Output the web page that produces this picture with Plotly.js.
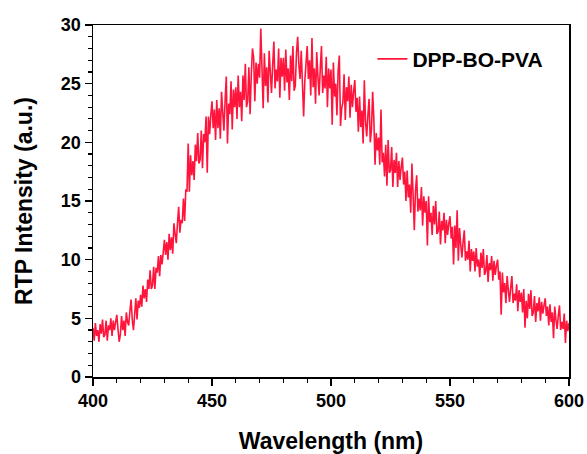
<!DOCTYPE html>
<html>
<head>
<meta charset="utf-8">
<script src="https://cdn.plot.ly/plotly-3.0.1.min.js"></script>
<style>html,body{margin:0;padding:0;background:#fff;}#chart{width:587px;height:454px;}</style>
</head>
<body>
<div id="chart"></div>
<script>
// Wavelength sampling (nm)
const wavelengthStart = 400;
const wavelengthStep = 0.5;
const seriesName = 'DPP-BO-PVA';
// RTP intensity (a.u.), 400 → 600 nm in 0.5 nm steps
const rtpIntensity = [
  4.2,3.1,4.6,3.5,4.0,3.0,4.5,3.7,4.9,3.4,
  3.6,4.8,3.1,4.4,4.0,5.0,3.5,4.8,4.0,4.7,
  5.3,4.1,3.0,3.6,5.2,4.0,4.8,3.5,5.5,4.7,
  4.4,5.6,6.6,4.9,4.0,5.3,6.7,4.9,6.5,5.9,
  7.0,6.0,7.8,6.7,7.5,6.4,8.3,7.5,9.1,7.5,
  7.8,9.4,7.5,9.3,8.9,10.3,8.6,10.4,9.6,10.6,
  11.7,10.4,11.5,10.0,12.2,10.8,11.9,10.5,13.1,12.2,
  11.4,13.1,14.5,12.3,13.4,13.1,15.2,13.3,16.0,15.8,
  19.9,15.8,18.9,17.2,18.4,16.8,19.8,18.4,20.8,18.2,
  18.5,21.0,17.8,20.7,20.0,22.2,17.4,22.2,20.7,22.3,
  23.5,21.2,22.8,20.2,23.6,21.2,22.9,20.3,24.3,22.6,
  21.0,23.5,25.6,19.9,23.3,22.4,25.2,21.1,24.5,23.0,
  24.7,22.0,25.7,23.0,24.3,21.8,25.7,23.6,26.7,23.0,
  23.5,26.4,22.4,25.7,28.0,27.2,23.5,26.8,25.0,26.7,
  25.5,29.7,26.9,22.9,27.6,24.8,26.4,23.4,27.8,25.8,
  24.2,26.6,28.6,24.6,26.2,25.2,28.0,23.8,27.2,25.6,
  27.2,24.4,27.9,25.1,26.3,23.6,27.4,25.2,28.2,24.4,
  24.8,27.6,29.0,26.6,25.4,27.8,24.0,22.2,25.2,26.8,
  28.2,25.4,27.0,24.0,28.9,24.7,26.3,23.3,27.7,25.6,
  24.0,26.3,28.2,24.2,25.7,24.6,27.3,23.0,26.3,24.6,
  26.2,21.5,26.8,23.9,25.0,22.3,26.1,27.4,21.4,22.9,
  23.4,25.8,21.9,24.7,23.5,25.6,22.1,24.9,23.0,24.3,
  25.3,22.6,23.8,20.9,23.9,21.3,22.7,19.9,25.3,21.8,
  20.5,22.3,23.7,20.0,21.1,24.3,22.0,18.1,20.8,19.3,
  20.4,18.1,22.8,18.3,19.1,17.1,19.8,16.3,20.2,17.4,
  17.6,19.6,16.2,18.5,17.4,19.1,16.2,18.4,16.8,17.9,
  18.7,16.4,17.5,15.0,17.6,15.3,16.4,14.0,18.2,15.5,
  12.5,15.9,17.2,14.1,15.2,14.2,16.2,12.9,15.4,14.0,
  15.0,11.2,15.4,13.2,14.0,12.1,14.6,13.0,15.0,12.2,
  12.4,14.1,11.3,13.3,12.5,14.0,11.4,13.4,12.1,13.1,
  13.7,11.8,12.8,9.6,12.9,11.0,14.2,9.9,12.7,11.3,
  10.2,11.5,12.5,9.9,10.7,10.0,11.6,9.0,10.9,9.9,
  10.7,9.0,11.0,9.4,10.0,8.5,10.6,9.3,10.9,8.7,
  9.0,10.4,8.1,9.7,9.1,10.3,8.2,9.9,8.7,9.5,
  10.0,8.3,9.0,5.3,8.9,7.2,8.0,6.3,8.6,7.4,
  6.4,7.6,8.6,6.3,7.1,6.5,7.9,5.6,7.4,6.4,
  7.2,5.5,7.5,4.2,6.5,5.0,7.1,5.8,7.4,5.2,
  5.5,6.9,4.7,6.3,5.6,6.8,4.8,6.4,5.4,6.1,
  6.7,5.2,6.0,4.4,6.2,4.7,5.5,3.3,6.0,4.9,
  4.1,5.2,6.1,4.0,4.7,4.1,5.4,2.9,4.8,3.9,
  4.6
];
const xTitle = 'Wavelength (nm)';
const yTitle = 'RTP Intensity (a.u.)';

const lineColor = '#ff143c';
const fontFam = 'Liberation Sans, Arial, sans-serif';

const trace = {
  type: 'scatter',
  mode: 'lines',
  name: seriesName,
  x0: wavelengthStart,
  dx: wavelengthStep,
  y: rtpIntensity,
  line: {color: lineColor, width: 1.6}
};

const axisCommon = {
  showgrid: false,
  zeroline: false,
  showline: true,
  linecolor: '#000',
  linewidth: 1.5,
  mirror: true,
  ticks: 'outside',
  ticklen: 7,
  tickwidth: 1.5,
  tickcolor: '#000',
  tickfont: {family: fontFam, size: 18, color: '#000', weight: 'bold'},
  minor: {ticks: 'outside', ticklen: 4, tickwidth: 1.2, tickcolor: '#000'}
};

const layout = {
  width: 587,
  height: 454,
  margin: {l: 93, r: 18, t: 25, b: 77},
  paper_bgcolor: '#fff',
  plot_bgcolor: '#fff',
  showlegend: true,
  legend: {
    x: 0.587, y: 0.961, xanchor: 'left', yanchor: 'top',
    bgcolor: 'rgba(0,0,0,0)',
    font: {family: fontFam, size: 21, color: '#000', weight: 'bold'}
  },
  xaxis: Object.assign({}, axisCommon, {
    range: [400, 600],
    dtick: 50,
    tick0: 400,
    minor: Object.assign({}, axisCommon.minor, {dtick: 10}),
    title: {text: xTitle, font: {family: fontFam, size: 23, color: '#000', weight: 'bold'}, standoff: 24}
  }),
  yaxis: Object.assign({}, axisCommon, {
    range: [0, 30],
    dtick: 5,
    tick0: 0,
    minor: Object.assign({}, axisCommon.minor, {dtick: 1}),
    title: {text: yTitle, font: {family: fontFam, size: 23, color: '#000', weight: 'bold'}, standoff: 22}
  })
};

Plotly.newPlot('chart', [trace], layout, {displayModeBar: false, staticPlot: true});
</script>
</body>
</html>
